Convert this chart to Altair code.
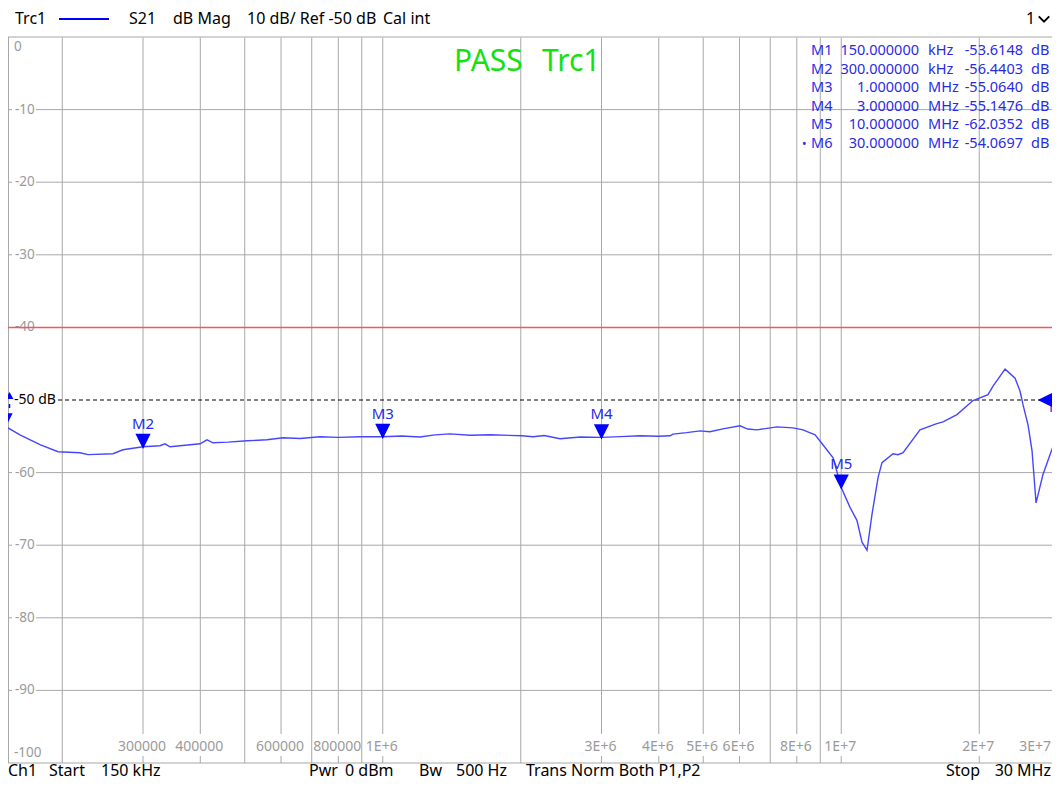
import altair as alt
import pandas as pd

# ---------------- data ----------------
freq_mhz = [0.150, 0.1617, 0.1788, 0.1958, 0.2186, 0.2276, 0.258, 0.2712, 0.300, 0.3267,
            0.335, 0.3435, 0.3995, 0.4137, 0.4263, 0.4600, 0.5058, 0.559, 0.606, 0.66,
            0.7296, 0.80, 0.892, 1.000, 1.10, 1.2056, 1.30, 1.402, 1.55, 1.713,
            2.013, 2.127, 2.25, 2.436, 2.70, 3.000, 3.30, 3.64, 4.00, 4.232,
            4.296, 4.60, 4.92, 5.17, 5.52, 6.015, 6.25, 6.55, 7.24, 7.85,
            8.25, 8.77, 9.12, 9.60, 10.0, 10.45, 10.82, 11.10, 11.38, 11.67,
            12.03, 12.27, 12.97, 13.30, 13.64, 14.85, 16.10, 16.67, 17.88, 19.38,
            20.90, 21.43, 22.77, 23.94, 24.54, 24.92, 25.55, 26.07, 26.60, 27.54,
            28.53, 29.70, 30.0]
s21_db = [-53.61, -54.79, -56.16, -57.12, -57.26, -57.53, -57.40, -56.85, -56.44, -56.30,
          -56.03, -56.44, -56.03, -55.48, -55.89, -55.80, -55.62, -55.48, -55.21, -55.30,
          -55.07, -55.15, -55.07, -55.06, -54.95, -55.10, -54.80, -54.66, -54.85, -54.79,
          -54.93, -55.07, -54.90, -55.34, -55.10, -55.15, -55.05, -54.93, -55.00, -54.93,
          -54.70, -54.50, -54.25, -54.38, -53.97, -53.56, -54.00, -54.11, -53.70, -53.84,
          -54.11, -54.79, -56.16, -57.95, -62.04, -64.79, -66.58, -69.59, -70.70, -65.75,
          -60.68, -58.63, -57.40, -57.53, -57.26, -54.11, -53.29, -53.02, -52.01, -50.07,
          -49.27, -48.08, -45.75, -47.00, -48.77, -50.68, -53.42, -57.00, -64.17, -60.27,
          -57.53, -54.52, -54.07]
assert len(freq_mhz) == len(s21_db)

marker_names = ["M1", "M2", "M3", "M4", "M5", "M6"]
marker_freq_mhz = [0.15, 0.3, 1.0, 3.0, 10.0, 30.0]
marker_db = [-53.6148, -56.4403, -55.0640, -55.1476, -62.0352, -54.0697]
marker_freq_text = ["150.000000", "300.000000", "1.000000", "3.000000", "10.000000", "30.000000"]
marker_unit = ["kHz", "kHz", "MHz", "MHz", "MHz", "MHz"]
marker_val_text = ["-53.6148", "-56.4403", "-55.0640", "-55.1476", "-62.0352", "-54.0697"]

grid_plain_mhz = [0.2, 0.5, 0.7, 0.9, 2, 7, 9]
xtick_mhz = [0.3, 0.4, 0.6, 0.8, 1, 3, 4, 5, 6, 8, 10, 20]
xtick_text = ["300000", "400000", "600000", "800000", "1E+6", "3E+6", "4E+6", "5E+6",
              "6E+6", "8E+6", "1E+7", "2E+7"]
last_tick_text = "3E+7"
ygrid_db = [-10, -20, -30, -60, -70, -80, -90]
ylabel_db = [0, -10, -20, -30, -40, -60, -70, -80, -90, -100]
ylabel_text = ["0", "-10", "-20", "-30", "-40", "-60", "-70", "-80", "-90", "-100"]
limit_db = -40
ref_db = -50

# ---------------- layout / style ----------------
W, H = 1044, 726          # visible plot width (page 8..1052), plot height
XR = [-3, 1052]           # pixel range of the log frequency axis
FONT = "Noto Sans"
GRID = "#a8a8a8"
LBL = "#9a9a9a"
BLUE = "#0000ff"
MBLUE = "#2a2ae6"
GREEN = "#12e212"

xs = alt.Scale(type="log", domain=[0.15, 30], range=XR)
ys = alt.Scale(domain=[-100, 0], range=[H, 0])

def X(f="f"):
    return alt.X(f"{f}:Q", scale=xs, axis=None)

def Y(f="db"):
    return alt.Y(f"{f}:Q", scale=ys, axis=None)

def txt(s, x, y, size=16, color="black", align="left", font=FONT, baseline="middle"):
    return alt.Chart().mark_text(text=s, align=align, baseline=baseline, fontSize=size,
                                 color=color, font=font).encode(
        x=alt.value(x), y=alt.value(y))

layers = []

# vertical grid
LBL_Y = H - 16
layers.append(alt.Chart(pd.DataFrame({"f": grid_plain_mhz})).mark_rule(color=GRID, strokeWidth=1).encode(
    x=X(), y=alt.value(0), y2=alt.value(H)))
tick_df = pd.DataFrame({"f": xtick_mhz, "t": xtick_text})
layers.append(alt.Chart(tick_df).mark_rule(color=GRID, strokeWidth=1).encode(
    x=X(), y=alt.value(0), y2=alt.value(LBL_Y - 13)))
layers.append(alt.Chart(tick_df).mark_rule(color=GRID, strokeWidth=1).encode(
    x=X(), y=alt.value(LBL_Y + 9), y2=alt.value(H)))

# horizontal grid (gap for labels)
hg = pd.DataFrame({"db": ygrid_db})
layers.append(alt.Chart(hg).mark_rule(color=GRID, strokeWidth=1).encode(
    y=Y(), x=alt.value(0), x2=alt.value(4)))
layers.append(alt.Chart(hg).mark_rule(color=GRID, strokeWidth=1).encode(
    y=Y(), x=alt.value(28), x2=alt.value(W)))
# borders
layers.append(alt.Chart().mark_rule(color="#c4c4c4", strokeWidth=1.5).encode(
    x=alt.value(0), x2=alt.value(W), y=alt.value(0)))
layers.append(alt.Chart().mark_rule(color=GRID, strokeWidth=1).encode(
    x=alt.value(0), x2=alt.value(W), y=alt.value(H)))
layers.append(alt.Chart().mark_rule(color=GRID, strokeWidth=1).encode(
    x=alt.value(0.5), y=alt.value(0), y2=alt.value(H)))

# y labels
yl = pd.DataFrame({"db": ylabel_db, "t": ylabel_text})
layers.append(alt.Chart(yl[(yl.db != 0) & (yl.db != -100)]).mark_text(
    align="left", baseline="middle", fontSize=13.5, color=LBL, font=FONT).encode(
    y=Y(), x=alt.value(7), text="t:N"))
layers.append(alt.Chart(yl[yl.db == 0]).mark_text(
    align="left", baseline="middle", fontSize=13.5, color=LBL, font=FONT, dy=10).encode(
    y=Y(), x=alt.value(6), text="t:N"))
layers.append(alt.Chart(yl[yl.db == -100]).mark_text(
    align="left", baseline="middle", fontSize=13.5, color=LBL, font=FONT, dy=-10).encode(
    y=Y(), x=alt.value(6), text="t:N"))

# x tick labels
layers.append(alt.Chart(tick_df).mark_text(
    align="center", baseline="middle", fontSize=14, color=LBL, font=FONT, dx=-1).encode(
    x=X(), y=alt.value(LBL_Y), text="t:N"))
layers.append(txt(last_tick_text, W - 1, LBL_Y, size=14, color=LBL, align="right"))

# limit line and reference line
layers.append(alt.Chart(pd.DataFrame({"db": [limit_db]})).mark_rule(color="#f05a5a", strokeWidth=1.5).encode(
    y=Y(), x=alt.value(0), x2=alt.value(W)))
ref_df = pd.DataFrame({"db": [ref_db]})
layers.append(alt.Chart(ref_df).mark_rule(color="black", strokeWidth=1, strokeDash=[4, 3]).encode(
    y=Y(), x=alt.value(50), x2=alt.value(W)))
layers.append(alt.Chart(ref_df).mark_text(text="-50 dB", align="left", baseline="middle",
                                          fontSize=14, color="black", font=FONT).encode(
    y=Y(), x=alt.value(6)))
# small reference arrow at the left edge
layers.append(alt.Chart(ref_df).transform_calculate(db2="datum.db - 1.1").mark_rule(
    color=BLUE, strokeWidth=1.5, yOffset=4).encode(
    y=Y(), y2=alt.Y2("db2:Q"), x=alt.value(1.5)))
layers.append(alt.Chart(ref_df).mark_point(shape="triangle-up", filled=True, fill=BLUE, stroke=BLUE,
                                           size=20, opacity=1, yOffset=-4).encode(
    y=Y(), x=alt.value(1.5)))

# trace
trace = pd.DataFrame({"f": freq_mhz, "db": s21_db})
layers.append(alt.Chart(trace).mark_line(color="#4646ff", strokeWidth=1.4).encode(x=X(), y=Y()))

# markers
mk = pd.DataFrame({"f": marker_freq_mhz, "db": marker_db, "name": marker_names})
layers.append(alt.Chart(mk).mark_point(shape="M-1,-1L1,-1L0,1Z", filled=True, fill=BLUE,
                                       stroke=BLUE, size=144, opacity=1, yOffset=-6).encode(
    x=X(), y=Y()))
layers.append(alt.Chart(mk[mk.name != "M1"]).mark_text(
    align="center", baseline="middle", fontSize=15, color=MBLUE, font=FONT, dy=-23).encode(
    x=X(), y=Y(), text="name:N"))
layers.append(alt.Chart(ref_df.assign(f=30.0)).mark_point(shape="M1,-1L1,1L-1,0Z", filled=True,
                                                          fill=BLUE, stroke=BLUE, size=144,
                                                          opacity=1, xOffset=-14).encode(
    x=X(), y=Y()))

# marker table
for i in range(len(marker_names)):
    yy = 14 + i * 18.5
    layers.append(txt(marker_names[i], 803, yy, size=14.5, color=MBLUE))
    layers.append(txt(marker_freq_text[i], 911, yy, size=14.5, color=MBLUE, align="right"))
    layers.append(txt(marker_unit[i], 920, yy, size=14.5, color=MBLUE))
    layers.append(txt(marker_val_text[i], 1015, yy, size=14.5, color=MBLUE, align="right"))
    layers.append(txt("dB", 1023, yy, size=14.5, color=MBLUE))
layers.append(txt("•", 794, 14 + 5 * 18.5, size=12, color=MBLUE))

# PASS label
layers.append(txt("PASS", 446, 25, size=30, color=GREEN))
layers.append(txt("Trc1", 534, 25, size=30, color=GREEN))

# header
HY = -18
layers.append(txt("Trc1", 7, HY))
layers.append(alt.Chart().mark_rule(color=BLUE, strokeWidth=2).encode(
    x=alt.value(51), x2=alt.value(101), y=alt.value(HY)))
layers.append(txt("S21", 121, HY))
layers.append(txt("dB Mag", 165, HY))
layers.append(txt("10 dB/ Ref -50 dB", 239, HY))
layers.append(txt("Cal int", 375, HY))
layers.append(txt("1", 1018, HY))
layers.append(alt.Chart().mark_point(shape="M-1,-0.5L0,0.5L1,-0.5", filled=False, stroke="black",
                                     strokeWidth=2, size=110, opacity=1).encode(
    x=alt.value(1036), y=alt.value(HY)))

# footer (baseline just above the bottom edge of the page area)
FY = H + 13
layers.append(txt("Ch1", 0, FY, baseline="alphabetic"))
layers.append(txt("Start", 41, FY, baseline="alphabetic"))
layers.append(txt("150 kHz", 93, FY, baseline="alphabetic"))
layers.append(txt("Pwr", 301, FY, baseline="alphabetic"))
layers.append(txt("0 dBm", 337, FY, baseline="alphabetic"))
layers.append(txt("Bw", 411, FY, baseline="alphabetic"))
layers.append(txt("500 Hz", 448, FY, baseline="alphabetic"))
layers.append(txt("Trans Norm Both P1,P2", 518, FY, baseline="alphabetic"))
layers.append(txt("Stop", 938, FY, baseline="alphabetic"))
layers.append(txt("30 MHz", W - 1, FY, align="right", baseline="alphabetic"))

chart = alt.layer(*layers, data=alt.Data(values=[{"k": 0}])).properties(
    width=W, height=H,
    autosize=alt.AutoSizeParams(type="none"),
    padding={"left": 0, "top": 29, "right": 0, "bottom": 17},
    background="white",
).configure_view(stroke=None)

chart.save("out.html", embed_options={"renderer": "svg", "actions": False})
